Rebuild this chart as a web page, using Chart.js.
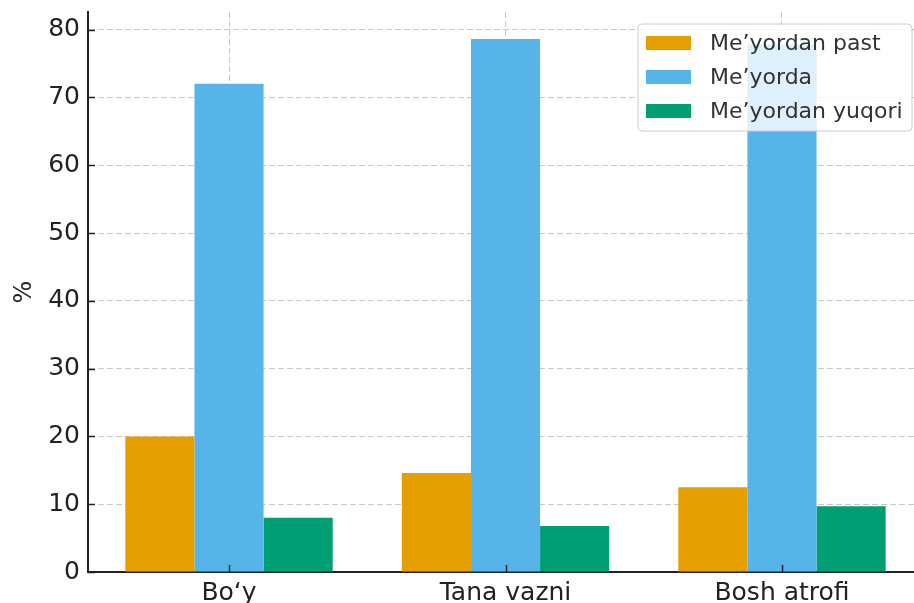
<!DOCTYPE html>
<html lang="uz">
<head>
<meta charset="UTF-8">
<title>Bo‘y, tana vazni, bosh atrofi</title>
<script src="https://cdn.jsdelivr.net/npm/chart.js"></script>
<style>
  html, body { margin: 0; padding: 0; overflow: hidden; background: #fff; }
  #wrap { width: 914px; height: 603px; overflow: hidden; }
</style>
</head>
<body>
<div id="wrap">
  <canvas id="grafik" width="923" height="612"></canvas>
</div>
<script>
// ma'lumotlar
const kategoriyalar = ['Bo‘y', 'Tana vazni', 'Bosh atrofi'];
const meyordanPast = [20.0, 14.6, 12.5];
const meyorda = [72.0, 78.6, 77.8];
const meyordanYuqori = [8.0, 6.8, 9.7];
const yTicks = [0, 10, 20, 30, 40, 50, 60, 70, 80];

const FONT = "'DejaVu Sans', sans-serif";

// legenda oq fon bilan, grafik ichida o'ng yuqorida
const legendPlugin = {
  id: 'boxLegend',
  afterDraw(chart) {
    const ctx = chart.ctx;
    const right = 912, top = 24, w = 274, h = 107;
    const x = right - w;
    ctx.save();
    ctx.beginPath();
    ctx.roundRect(x, top, w, h, 4);
    ctx.fillStyle = 'rgba(255,255,255,0.8)';
    ctx.fill();
    ctx.strokeStyle = '#cccccc';
    ctx.lineWidth = 1;
    ctx.stroke();
    ctx.font = '22px ' + FONT;
    ctx.textBaseline = 'middle';
    chart.data.datasets.forEach((ds, i) => {
      const cy = top + 19 + i * 34;
      ctx.fillStyle = ds.backgroundColor;
      ctx.fillRect(x + 8, cy - 7, 45, 14);
      ctx.fillStyle = '#333333';
      ctx.fillText(ds.label, x + 72, cy + 1);
    });
    ctx.restore();
  }
};

// ichkariga qaragan kichik chiziqchalar
const tickPlugin = {
  id: 'innerTicks',
  afterDatasetsDraw(chart) {
    const ctx = chart.ctx;
    const xs = chart.scales.x, ys = chart.scales.y;
    const a = chart.chartArea;
    ctx.save();
    ctx.strokeStyle = '#222';
    ctx.lineWidth = 1.5;
    ctx.beginPath();
    yTicks.forEach(v => {
      const py = Math.round(ys.getPixelForValue(v)) + 0.5;
      ctx.moveTo(a.left, py);
      ctx.lineTo(a.left + 7, py);
    });
    kategoriyalar.forEach((c, i) => {
      const px = Math.round(xs.getPixelForValue(i)) + 0.5;
      ctx.moveTo(px, a.bottom);
      ctx.lineTo(px, a.bottom - 7);
    });
    ctx.stroke();
    ctx.restore();
  }
};

const gridStyle = {
  color: 'rgba(176,176,176,0.7)',
  lineWidth: 1,
  drawTicks: false
};

new Chart(document.getElementById('grafik').getContext('2d'), {
  type: 'bar',
  data: {
    labels: kategoriyalar,
    datasets: [
      { label: 'Me’yordan past', data: meyordanPast, backgroundColor: '#E69F00' },
      { label: 'Me’yorda', data: meyorda, backgroundColor: '#56B4E9' },
      { label: 'Me’yordan yuqori', data: meyordanYuqori, backgroundColor: '#009E73' }
    ]
  },
  options: {
    responsive: false,
    animation: false,
    devicePixelRatio: 1,
    layout: { padding: { top: 12, right: 0, bottom: 0, left: 0 } },
    datasets: {
      bar: { categoryPercentage: 0.75, barPercentage: 1.0, borderWidth: 0 }
    },
    plugins: {
      legend: { display: false },
      tooltip: { enabled: false }
    },
    scales: {
      x: {
        z: 1,
        offset: false,
        grid: Object.assign({ offset: false }, gridStyle),
        border: { display: true, color: '#222', width: 2, dash: [6, 3] },
        ticks: { color: '#222', font: { family: FONT, size: 25 }, padding: 6, maxRotation: 0 },
        // x chegaralari: -0.51 .. 2.51
        afterBuildTicks(scale) {
          scale.ticks = kategoriyalar.map((c, i) => ({ value: i }));
          scale._startValue = -0.51;
          scale._valueRange = 3.02;
        },
        afterFit(scale) { scale.height = 40; scale.paddingLeft = 0; scale.paddingRight = 0; }
      },
      y: {
        z: 1,
        min: 0,
        max: 82.6,
        grid: gridStyle,
        border: { display: true, color: '#222', width: 2, dash: [6, 3] },
        ticks: { color: '#222', font: { family: FONT, size: 25 }, padding: 8 },
        afterBuildTicks(scale) { scale.ticks = yTicks.map(v => ({ value: v })); },
        title: {
          display: true,
          text: '%',
          color: '#222',
          font: { family: FONT, size: 24 },
          padding: { top: 10, bottom: 0 }
        },
        afterFit(scale) { scale.width = 88; scale.paddingTop = 0; scale.paddingBottom = 0; }
      }
    }
  },
  plugins: [tickPlugin, legendPlugin]
});
</script>
</body>
</html>
